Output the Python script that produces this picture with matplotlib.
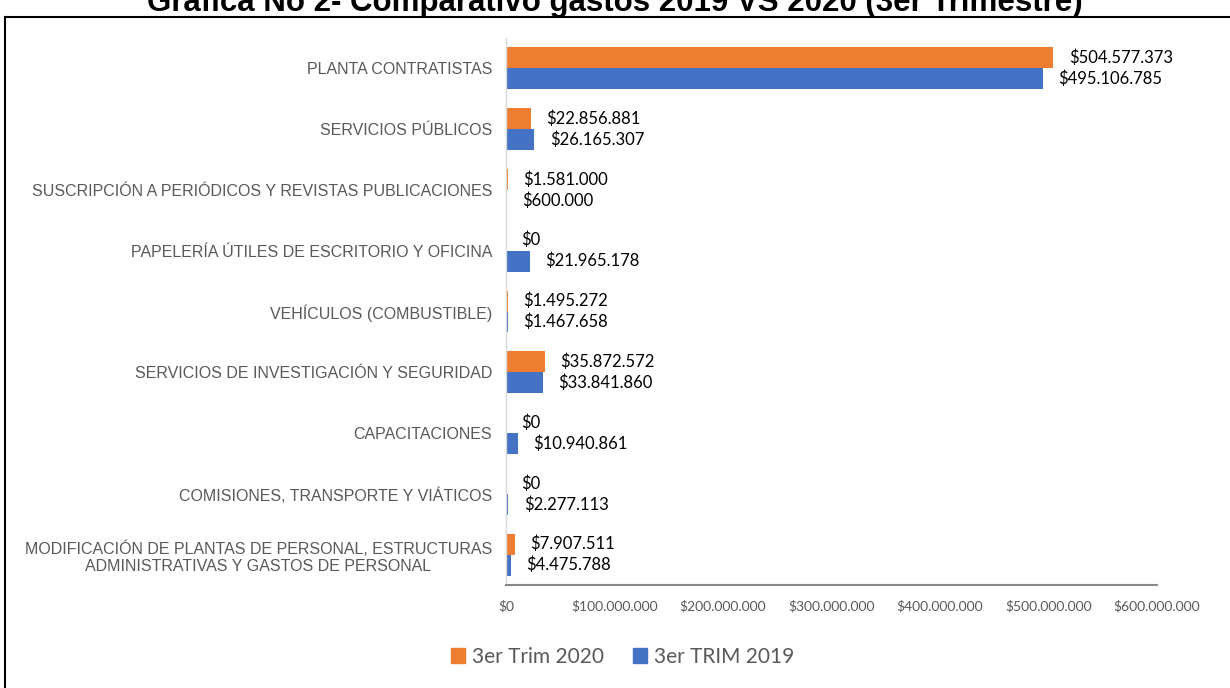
import matplotlib
matplotlib.use("Agg")
import matplotlib.pyplot as plt
import matplotlib.ticker as mtick
import matplotlib.patches as mpatches
import numpy as np

categories = [
    "PLANTA CONTRATISTAS",
    "SERVICIOS PÚBLICOS",
    "SUSCRIPCIÓN A PERIÓDICOS Y REVISTAS PUBLICACIONES",
    "PAPELERÍA ÚTILES DE ESCRITORIO Y OFICINA",
    "VEHÍCULOS (COMBUSTIBLE)",
    "SERVICIOS DE INVESTIGACIÓN Y SEGURIDAD",
    "CAPACITACIONES",
    "COMISIONES, TRANSPORTE Y VIÁTICOS",
    "MODIFICACIÓN DE PLANTAS DE PERSONAL, ESTRUCTURAS\nADMINISTRATIVAS Y GASTOS DE PERSONAL",
]
trim_2020 = [504577373, 22856881, 1581000, 0, 1495272, 35872572, 0, 0, 7907511]
trim_2019 = [495106785, 26165307, 600000, 21965178, 1467658, 33841860, 10940861, 2277113, 4475788]
x_ticks = [0, 100000000, 200000000, 300000000, 400000000, 500000000, 600000000]

series_names = ["3er Trim 2020", "3er TRIM 2019"]
colors = ["#ED7D31", "#4472C4"]
gray = "#595959"


def money(v):
    return "$" + f"{v:,.0f}".replace(",", ".")


fig = plt.figure(figsize=(12.3, 6.88), dpi=100)
ax = fig.add_axes([506 / 1230, 1 - 585 / 688, 651 / 1230, 547 / 688])

y = np.arange(len(categories))
h = 0.345
bars20 = ax.barh(y - h / 2, trim_2020, height=h, color=colors[0])
bars19 = ax.barh(y + h / 2, trim_2019, height=h, color=colors[1])

for bars, vals in ((bars20, trim_2020), (bars19, trim_2019)):
    for b, v in zip(bars, vals):
        ax.annotate(money(v), (b.get_width(), b.get_y() + b.get_height() / 2),
                    xytext=(11, 0), textcoords="offset points",
                    va="center", ha="left", fontsize=12, family="Lato",
                    color="black")

ax.set_ylim(len(categories) - 0.5, -0.5)
ax.set_xlim(0, 600000000)
ax.set_xticks(x_ticks)
ax.xaxis.set_major_formatter(mtick.FuncFormatter(lambda v, p: money(v)))
ax.set_yticks(y)
ax.set_yticklabels(categories, multialignment="center")
ax.tick_params(axis="y", length=0, pad=10, labelsize=11.5, labelcolor=gray)
ax.tick_params(axis="x", length=0, pad=11, labelsize=10, labelcolor=gray)
for lab in ax.get_yticklabels():
    lab.set_family("Liberation Sans")
for lab in ax.get_xticklabels():
    lab.set_family("Lato")

for s in ("top", "right"):
    ax.spines[s].set_visible(False)
ax.spines["left"].set_color("#D9D9D9")
ax.spines["left"].set_linewidth(1.0)
ax.spines["bottom"].set_color("#898989")
ax.spines["bottom"].set_linewidth(1.5)

handles = [mpatches.Patch(color=c, label=n) for c, n in zip(colors, series_names)]
fig.legend(handles=handles, loc="center", bbox_to_anchor=(0.506, 1 - 657 / 688),
           ncol=2, frameon=False, handlelength=0.7, handleheight=0.7,
           handletextpad=0.3, columnspacing=1.4,
           prop={"family": "Lato", "size": 15}, labelcolor=gray)

# title sits partly above the top edge, as in the source screenshot
fig.text(0.5, 1 - 11 / 688, "Gráfica No 2- Comparativo gastos 2019 VS 2020 (3er Trimestre)",
         ha="center", va="baseline", fontsize=22.5, fontweight="bold",
         family="Liberation Sans", color="black")

frame = mpatches.Rectangle((5 / 1230, -0.1), 1.2, 1.1 - 17 / 688,
                           transform=fig.transFigure, fill=False,
                           lw=1.5, ec="black", clip_on=False)
fig.patches.append(frame)

fig.savefig("out.png", dpi=100)
